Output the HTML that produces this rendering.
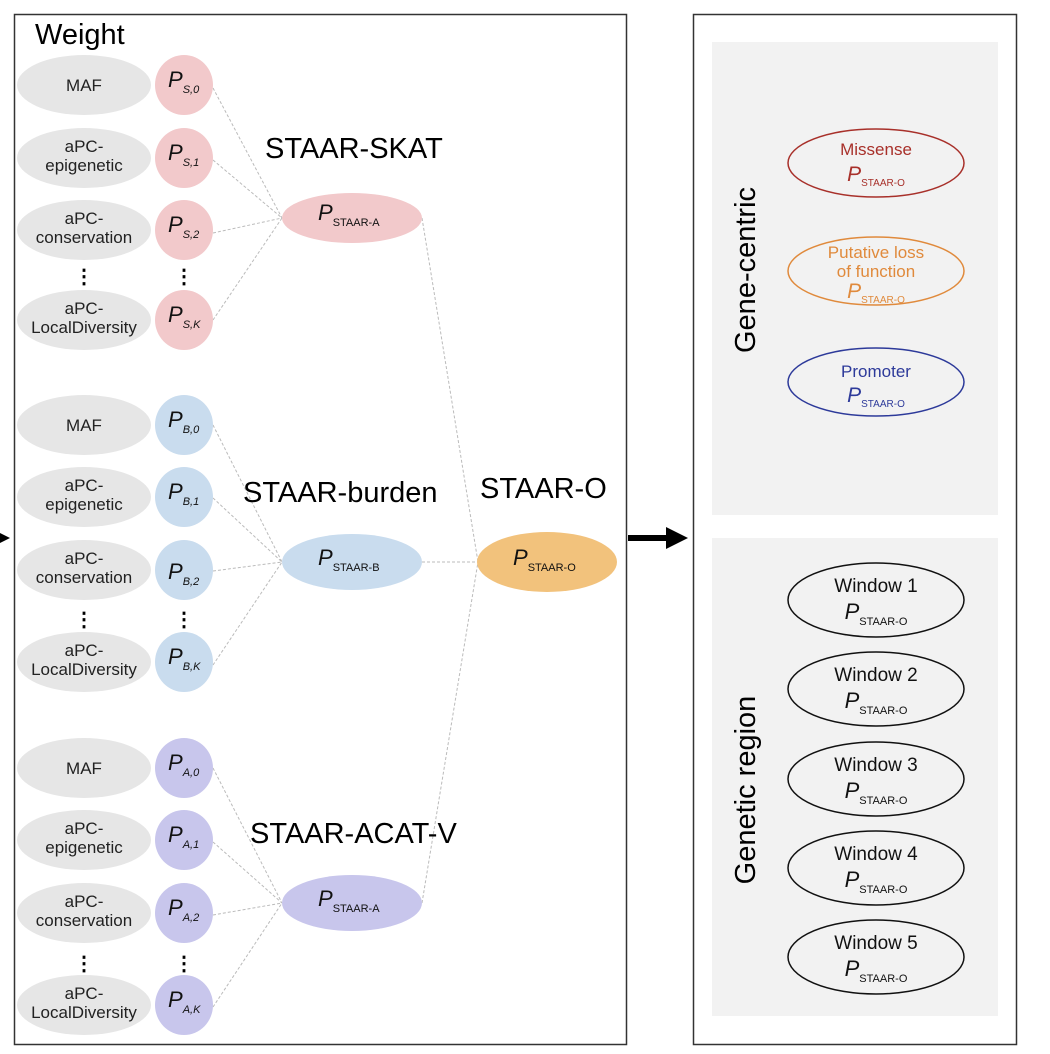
<!DOCTYPE html>
<html><head><meta charset="utf-8"><style>
html,body{margin:0;padding:0;background:#fff}
svg{display:block;font-family:"Liberation Sans",Arial,sans-serif}
</style></head><body>
<svg width="1050" height="1054" viewBox="0 0 1050 1054" xmlns="http://www.w3.org/2000/svg">
<rect x="0" y="0" width="1050" height="1054" fill="#fff"/>
<rect x="14.5" y="14.5" width="612" height="1030" fill="none" stroke="#333" stroke-width="1.5"/>
<rect x="693.5" y="14.5" width="323" height="1030" fill="none" stroke="#333" stroke-width="1.5"/>
<rect x="712" y="42" width="286" height="473" fill="#f2f2f2"/>
<rect x="712" y="538" width="286" height="478" fill="#f2f2f2"/>
<polygon points="0,533 10,538 0,543" fill="#000"/>
<line x1="628" y1="538" x2="670" y2="538" stroke="#000" stroke-width="6"/>
<polygon points="666,527 688,538 666,549" fill="#000"/>

<text x="35" y="44" font-size="29">Weight</text>

<g stroke="#bbb" stroke-width="1" stroke-dasharray="3,2" fill="none">
<line x1="213" y1="88" x2="282" y2="218"/><line x1="213" y1="160" x2="282" y2="218"/><line x1="213" y1="233" x2="282" y2="218"/><line x1="213" y1="320" x2="282" y2="218"/>
<line x1="213" y1="425" x2="282" y2="562"/><line x1="213" y1="498" x2="282" y2="562"/><line x1="213" y1="571" x2="282" y2="562"/><line x1="213" y1="665" x2="282" y2="562"/>
<line x1="213" y1="768" x2="282" y2="903"/><line x1="213" y1="842" x2="282" y2="903"/><line x1="213" y1="915" x2="282" y2="903"/><line x1="213" y1="1007" x2="282" y2="903"/>
<line x1="422" y1="218" x2="478" y2="562"/><line x1="422" y1="562" x2="478" y2="562"/><line x1="422" y1="903" x2="478" y2="562"/>
</g>

<g fill="#e6e6e6">
<ellipse cx="84" cy="85" rx="67" ry="30"/><ellipse cx="84" cy="158" rx="67" ry="30"/><ellipse cx="84" cy="230" rx="67" ry="30"/><ellipse cx="84" cy="320" rx="67" ry="30"/>
<ellipse cx="84" cy="425" rx="67" ry="30"/><ellipse cx="84" cy="497" rx="67" ry="30"/><ellipse cx="84" cy="570" rx="67" ry="30"/><ellipse cx="84" cy="662" rx="67" ry="30"/>
<ellipse cx="84" cy="768" rx="67" ry="30"/><ellipse cx="84" cy="840" rx="67" ry="30"/><ellipse cx="84" cy="913" rx="67" ry="30"/><ellipse cx="84" cy="1005" rx="67" ry="30"/>
</g>
<g font-size="17" text-anchor="middle" fill="#222">
<text x="84" y="91">MAF</text>
<text x="84" y="152">aPC-</text><text x="84" y="171">epigenetic</text>
<text x="84" y="224">aPC-</text><text x="84" y="243">conservation</text>
<text x="84" y="314">aPC-</text><text x="84" y="333">LocalDiversity</text>
<text x="84" y="431">MAF</text>
<text x="84" y="491">aPC-</text><text x="84" y="510">epigenetic</text>
<text x="84" y="564">aPC-</text><text x="84" y="583">conservation</text>
<text x="84" y="656">aPC-</text><text x="84" y="675">LocalDiversity</text>
<text x="84" y="774">MAF</text>
<text x="84" y="834">aPC-</text><text x="84" y="853">epigenetic</text>
<text x="84" y="907">aPC-</text><text x="84" y="926">conservation</text>
<text x="84" y="999">aPC-</text><text x="84" y="1018">LocalDiversity</text>
</g>
<g font-size="20" text-anchor="middle" font-weight="bold">
<text x="84" y="283">⋮</text><text x="184" y="283">⋮</text>
<text x="84" y="626">⋮</text><text x="184" y="626">⋮</text>
<text x="84" y="970">⋮</text><text x="184" y="970">⋮</text>
</g>

<g fill="#f2c9cb"><ellipse cx="184" cy="85" rx="29" ry="30"/><ellipse cx="184" cy="158" rx="29" ry="30"/><ellipse cx="184" cy="230" rx="29" ry="30"/><ellipse cx="184" cy="320" rx="29" ry="30"/></g>
<g fill="#c9dcee"><ellipse cx="184" cy="425" rx="29" ry="30"/><ellipse cx="184" cy="497" rx="29" ry="30"/><ellipse cx="184" cy="570" rx="29" ry="30"/><ellipse cx="184" cy="662" rx="29" ry="30"/></g>
<g fill="#c8c6ec"><ellipse cx="184" cy="768" rx="29" ry="30"/><ellipse cx="184" cy="840" rx="29" ry="30"/><ellipse cx="184" cy="913" rx="29" ry="30"/><ellipse cx="184" cy="1005" rx="29" ry="30"/></g>
<g font-style="italic" fill="#111">
<text x="168" y="87" font-size="22">P<tspan font-size="11" dy="6">S,0</tspan></text>
<text x="168" y="160" font-size="22">P<tspan font-size="11" dy="6">S,1</tspan></text>
<text x="168" y="232" font-size="22">P<tspan font-size="11" dy="6">S,2</tspan></text>
<text x="168" y="322" font-size="22">P<tspan font-size="11" dy="6">S,K</tspan></text>
<text x="168" y="427" font-size="22">P<tspan font-size="11" dy="6">B,0</tspan></text>
<text x="168" y="499" font-size="22">P<tspan font-size="11" dy="6">B,1</tspan></text>
<text x="168" y="579" font-size="22">P<tspan font-size="11" dy="6">B,2</tspan></text>
<text x="168" y="664" font-size="22">P<tspan font-size="11" dy="6">B,K</tspan></text>
<text x="168" y="770" font-size="22">P<tspan font-size="11" dy="6">A,0</tspan></text>
<text x="168" y="842" font-size="22">P<tspan font-size="11" dy="6">A,1</tspan></text>
<text x="168" y="915" font-size="22">P<tspan font-size="11" dy="6">A,2</tspan></text>
<text x="168" y="1007" font-size="22">P<tspan font-size="11" dy="6">A,K</tspan></text>
</g>

<ellipse cx="352" cy="218" rx="70" ry="25" fill="#f2c9cb"/>
<ellipse cx="352" cy="562" rx="70" ry="28" fill="#c9dcee"/>
<ellipse cx="352" cy="903" rx="70" ry="28" fill="#c8c6ec"/>
<ellipse cx="547" cy="562" rx="70" ry="30" fill="#f2c27c"/>
<g font-size="22" fill="#111">
<text x="318" y="220"><tspan font-style="italic">P</tspan><tspan font-size="11" dy="6">STAAR-A</tspan></text>
<text x="318" y="565"><tspan font-style="italic">P</tspan><tspan font-size="11" dy="6">STAAR-B</tspan></text>
<text x="318" y="906"><tspan font-style="italic">P</tspan><tspan font-size="11" dy="6">STAAR-A</tspan></text>
<text x="513" y="565"><tspan font-style="italic">P</tspan><tspan font-size="11" dy="6">STAAR-O</tspan></text>
</g>
<g font-size="29" fill="#000">
<text x="265" y="158">STAAR-SKAT</text>
<text x="243" y="502">STAAR-burden</text>
<text x="480" y="498">STAAR-O</text>
<text x="250" y="843">STAAR-ACAT-V</text>
</g>

<text transform="translate(755,270) rotate(-90)" text-anchor="middle" font-size="29">Gene-centric</text>
<text transform="translate(755,790) rotate(-90)" text-anchor="middle" font-size="29">Genetic region</text>
<g fill="none" stroke-width="1.5">
<ellipse cx="876" cy="163" rx="88" ry="34" stroke="#a8302a"/>
<ellipse cx="876" cy="271" rx="88" ry="34" stroke="#e08a3c"/>
<ellipse cx="876" cy="382" rx="88" ry="34" stroke="#2d3a9a"/>
</g>
<g font-size="17" text-anchor="middle">
<text x="876" y="155" fill="#a8302a">Missense</text>
<text x="876" y="181" fill="#a8302a"><tspan font-style="italic" font-size="21">P</tspan><tspan font-size="10" dy="5">STAAR-O</tspan></text>
<text x="876" y="258" fill="#e08a3c">Putative loss</text>
<text x="876" y="277" fill="#e08a3c">of function</text>
<text x="876" y="298" fill="#e08a3c"><tspan font-style="italic" font-size="21">P</tspan><tspan font-size="10" dy="5">STAAR-O</tspan></text>
<text x="876" y="377" fill="#2d3a9a">Promoter</text>
<text x="876" y="402" fill="#2d3a9a"><tspan font-style="italic" font-size="21">P</tspan><tspan font-size="10" dy="5">STAAR-O</tspan></text>
</g>
<g fill="none" stroke="#111" stroke-width="1.5">
<ellipse cx="876" cy="600" rx="88" ry="37"/>
<ellipse cx="876" cy="689" rx="88" ry="37"/>
<ellipse cx="876" cy="779" rx="88" ry="37"/>
<ellipse cx="876" cy="868" rx="88" ry="37"/>
<ellipse cx="876" cy="957" rx="88" ry="37"/>
</g>
<g font-size="19" text-anchor="middle" fill="#111">
<text x="876" y="592">Window 1</text><text x="876" y="619"><tspan font-style="italic" font-size="22">P</tspan><tspan font-size="11" dy="6">STAAR-O</tspan></text>
<text x="876" y="681">Window 2</text><text x="876" y="708"><tspan font-style="italic" font-size="22">P</tspan><tspan font-size="11" dy="6">STAAR-O</tspan></text>
<text x="876" y="771">Window 3</text><text x="876" y="798"><tspan font-style="italic" font-size="22">P</tspan><tspan font-size="11" dy="6">STAAR-O</tspan></text>
<text x="876" y="860">Window 4</text><text x="876" y="887"><tspan font-style="italic" font-size="22">P</tspan><tspan font-size="11" dy="6">STAAR-O</tspan></text>
<text x="876" y="949">Window 5</text><text x="876" y="976"><tspan font-style="italic" font-size="22">P</tspan><tspan font-size="11" dy="6">STAAR-O</tspan></text>
</g>
</svg>
</body></html>
